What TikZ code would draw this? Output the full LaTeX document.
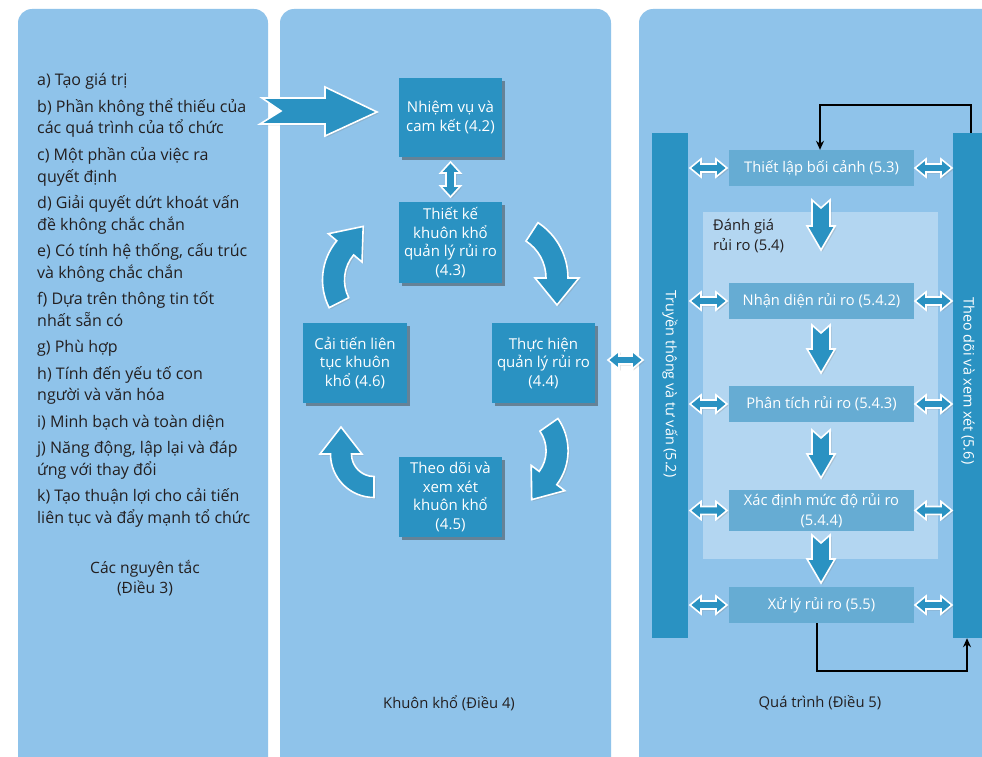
\documentclass[tikz,border=0pt]{standalone}
\usepackage{fontspec}
\setmainfont{Open Sans}
\usetikzlibrary{shadows,arrows.meta,calc}
\definecolor{panelc}{HTML}{8FC3EA}
\definecolor{tealbox}{HTML}{2A92C2}
\definecolor{procbox}{HTML}{66ACD3}
\definecolor{assessc}{HTML}{B3D6F1}
\definecolor{inkc}{HTML}{231F20}

\tikzset{
  panel/.style={fill=panelc, rounded corners=14pt},
  fbox/.style={fill=tealbox, text=white, inner sep=0pt, align=center,
    minimum width=103pt, minimum height=80pt,
    font=\fontsize{15}{18.5}\selectfont,
    drop shadow={shadow xshift=3pt, shadow yshift=-3pt, opacity=0.45, fill=black!80}},
  pbox/.style={fill=procbox, text=white, inner sep=0pt, align=center,
    minimum width=185pt, minimum height=36pt,
    font=\fontsize{14.7}{20}\selectfont},
  barbox/.style={fill=tealbox, inner sep=0pt},
  bartext/.style={text=white, font=\fontsize{14.4}{18}\selectfont, inner sep=0pt},
  lefttext/.style={anchor=base west, text=inkc, inner sep=0pt, font=\fontsize{16}{20}\selectfont},
  labeltext/.style={text=inkc, align=center, inner sep=0pt, font=\fontsize{14.8}{20}\selectfont},
  blockarrow/.style={fill=tealbox, draw=white, line width=1.6pt, line join=miter,
    drop shadow={shadow xshift=1.5pt, shadow yshift=-1.5pt, opacity=0.25}},
  fbline/.style={draw=black, line width=2pt, -{Stealth[length=9pt,width=8pt]}},
}

\newcommand{\cvarrow}[8]{% cx cy r phiT phiB w h L
  \path[blockarrow] ($(#1,#2)+({#4}:{#3-#6})$)
    arc[start angle=#4, end angle=#5, radius=#3-#6]
    -- ($(#1,#2)+({#5}:{#3-#7})$)
    -- ($(#1,#2)+({#5}:{#3})+({#5+90}:{#8})$)
    -- ($(#1,#2)+({#5}:{#3+#7})$)
    -- ($(#1,#2)+({#5}:{#3+#6})$)
    arc[start angle=#5, end angle=#4, radius=#3+#6] -- cycle;}
\newcommand{\hdarrow}[3]{% x0 x1 y
  \path[blockarrow] (#1,#3) -- ({#1+11},{#3-9}) -- ({#1+11},{#3-4}) -- ({#2-11},{#3-4})
    -- ({#2-11},{#3-9}) -- (#2,#3) -- ({#2-11},{#3+9}) -- ({#2-11},{#3+4})
    -- ({#1+11},{#3+4}) -- ({#1+11},{#3+9}) -- cycle;}
\newcommand{\vdarrow}[3]{% x y0 y1
  \path[blockarrow] (#1,#2) -- ({#1+10},{#2+11}) -- ({#1+4.5},{#2+11}) -- ({#1+4.5},{#3-11})
    -- ({#1+10},{#3-11}) -- (#1,#3) -- ({#1-10},{#3-11}) -- ({#1-4.5},{#3-11})
    -- ({#1-4.5},{#2+11}) -- ({#1-10},{#2+11}) -- cycle;}
\newcommand{\dnarrow}[3]{% x y0 y1
  \path[blockarrow] ({#1-9},#2) -- (#1,{#2+8}) -- ({#1+9},#2) -- ({#1+9},{#3-24})
    -- ({#1+14},{#3-24}) -- (#1,#3) -- ({#1-14},{#3-24}) -- ({#1-9},{#3-24}) -- cycle;}

\begin{document}
\begin{tikzpicture}[x=1pt,y=-1pt]
\useasboundingbox (0,0) rectangle (982,757);
\clip (0,0) rectangle (982,757);
\fill[white] (0,0) rectangle (982,757);

% panels
\path[panel] (18,9) rectangle (268,800);
\path[panel] (280,9) rectangle (611,800);
\path[panel] (639,9) rectangle (1010,800);

% ---------- left panel ----------
\node[lefttext] (p1) at (37,86) {a) Tạo giá trị};
\node[lefttext] (p2) at (37,112.5) {b) Phần không thể thiếu của};
\node[lefttext] (p3) at (37,134) {các quá trình của tổ chức};
\node[lefttext] (p4) at (37,160.5) {c) Một phần của việc ra};
\node[lefttext] (p5) at (37,182) {quyết định};
\node[lefttext] (p6) at (37,208.5) {d) Giải quyết dứt khoát vấn};
\node[lefttext] (p7) at (37,230) {đề không chắc chắn};
\node[lefttext] (p8) at (37,256.5) {e) Có tính hệ thống, cấu trúc};
\node[lefttext] (p9) at (37,278) {và không chắc chắn};
\node[lefttext] (p10) at (37,304.5) {f) Dựa trên thông tin tốt};
\node[lefttext] (p11) at (37,326) {nhất sẵn có};
\node[lefttext] (p12) at (37,352.5) {g) Phù hợp};
\node[lefttext] (p13) at (37,379) {h) Tính đến yếu tố con};
\node[lefttext] (p14) at (37,400.5) {người và văn hóa};
\node[lefttext] (p15) at (37,427) {i) Minh bạch và toàn diện};
\node[lefttext] (p16) at (37,453.5) {j) Năng động, lập lại và đáp};
\node[lefttext] (p17) at (37,475) {ứng với thay đổi};
\node[lefttext] (p18) at (37,501.5) {k) Tạo thuận lợi cho cải tiến};
\node[lefttext] (p19) at (37,523) {liên tục và đẩy mạnh tổ chức};
\node[labeltext, font=\fontsize{15.6}{20.5}\selectfont] (lbl3) at (145,578) {Các nguyên tắc\\(Điều 3)};

% big arrow into framework
\path[blockarrow] (262,98) -- (325,98) -- (325,87) -- (377,112) -- (325,136)
  -- (325,124) -- (260,124) -- (281,111) -- cycle;

% ---------- middle panel ----------
\node[fbox, minimum height=79pt] (m42) at (450.5,117.5) {Nhiệm vụ và\\cam kết (4.2)};
\node[fbox, minimum height=81pt] (m43) at (450.5,242.5) {Thiết kế\\khuôn khổ\\quản lý rủi ro\\(4.3)};
\node[fbox, minimum width=104pt] (m46) at (355,363) {Cải tiến liên\\tục khuôn\\khổ (4.6)};
\node[fbox] (m44) at (543.5,363) {Thực hiện\\quản lý rủi ro\\(4.4)};
\node[fbox] (m45) at (450.5,497) {Theo dõi và\\xem xét\\khuôn khổ\\(4.5)};
\node[labeltext] (lbl4) at (449,703) {Khuôn khổ (Điều 4)};

\vdarrow{450.5}{162}{197}
\cvarrow{502}{278}{55}{-57}{0}{11}{22}{27}
\cvarrow{511.8}{450.8}{45.3}{-35}{37}{11}{21}{27}
\cvarrow{374}{454}{33}{90}{180}{10.5}{21}{27}
\cvarrow{383.5}{280}{50}{153}{220}{11}{22}{28}

% link between framework and process
\hdarrow{608}{643}{360}

% ---------- right panel ----------
\node[fill=assessc, minimum width=235pt, minimum height=347pt, inner sep=0pt] (assess) at (820.5,385.5) {};
\node[labeltext, align=left, anchor=north west] (lbl54) at (713,219) {Đánh giá\\rủi ro (5.4)};

\node[barbox, minimum width=36pt, minimum height=505pt] (bar52) at (670,385.5) {};
\node[barbox, minimum width=31pt, minimum height=505pt] (bar56) at (968.5,385.5) {};
\node[bartext, rotate=-90] (t52) at (670,384) {Truyền thông và tư vấn (5.2)};
\node[bartext, rotate=-90] (t56) at (968,381) {Theo dõi và xem xét (5.6)};

\node[pbox] (ctx) at (821.5,168) {Thiết lập bối cảnh (5.3)};
\node[pbox] (ident) at (821.5,301) {Nhận diện rủi ro (5.4.2)};
\node[pbox] (anal) at (821.5,404) {Phân tích rủi ro (5.4.3)};
\node[pbox, minimum height=41pt] (eval) at (821.5,510.5) {Xác định mức độ rủi ro\\(5.4.4)};
\node[pbox] (treat) at (821.5,605) {Xử lý rủi ro (5.5)};
\node[labeltext] (lbl5) at (820,703) {Quá trình (Điều 5)};

\dnarrow{821}{200}{250}
\dnarrow{821}{325}{373}
\dnarrow{821}{430}{478}
\dnarrow{821}{535}{583}

\foreach \yy in {168,301,404,510.5,605}{
  \hdarrow{690}{727}{\yy}
  \hdarrow{915}{952}{\yy}
}

\draw[fbline] ([xshift=2pt]bar56.north) -- ++(0,-28) -| ([xshift=-1.5pt]ctx.north);
\draw[fbline] ([xshift=-5pt]treat.south) -- ++(0,48) -| ([xshift=-1.5pt]bar56.south);
\end{tikzpicture}
\end{document}
